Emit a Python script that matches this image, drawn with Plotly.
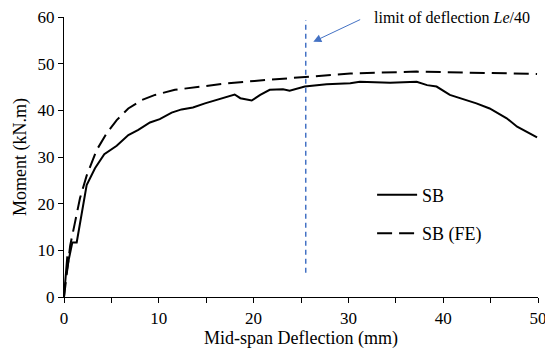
import plotly.graph_objects as go

# Measured (SB) test curve
sb_x = [0, 0.35, 0.25, 0.5, 0.88, 1.34, 1.86, 2.39, 3.27, 4.25, 5.56, 6.79, 7.84, 9.07, 10.1,
        11.36, 12.4, 13.6, 14.87, 16.3, 18.0, 18.6, 19.8, 20.7, 21.7, 23.1, 23.8, 25.4, 27.7,
        30.2, 31.2, 34.4, 36.1, 37.2, 38.3, 39.3, 40.7, 41.8, 43.5, 44.9, 45.8, 46.7, 47.8, 49.9]
sb_y = [0, 8.7, 5.0, 8.0, 11.7, 11.7, 17.9, 24.0, 27.6, 30.6, 32.4, 34.7, 35.8, 37.4, 38.1,
        39.5, 40.2, 40.6, 41.5, 42.4, 43.4, 42.6, 42.1, 43.3, 44.4, 44.5, 44.2, 45.1, 45.6,
        45.8, 46.1, 45.9, 46.1, 46.1, 45.4, 45.1, 43.3, 42.6, 41.5, 40.4, 39.4, 38.3, 36.5, 34.2]

# Finite element (SB (FE)) curve
fe_x = [0, 0.3, 0.65, 1.16, 1.69, 2.39, 3.45, 4.5, 5.56, 6.78, 8.2, 9.6, 11.7, 14.5, 17.3,
        20.1, 25.4, 30.2, 37.2, 44.2, 49.9]
fe_y = [0, 5.5, 11.0, 16.0, 21.2, 26.0, 31.5, 35.1, 37.9, 40.4, 42.2, 43.3, 44.4, 45.1, 45.8,
        46.3, 47.1, 47.9, 48.3, 48.1, 47.8]

# Deflection limit marker
limit_x = [25.5, 25.5]
limit_y = [5.2, 59.3]

FONT = "Liberation Serif"
BLUE = "#4472C4"

fig = go.Figure()
fig.add_trace(go.Scatter(x=sb_x, y=sb_y, mode="lines", name="SB", legendgroup="a",
                         line=dict(color="black", width=2)))
fig.add_trace(go.Scatter(x=fe_x, y=fe_y, mode="lines", name="SB (FE)", legendgroup="b",
                         line=dict(color="black", width=2, dash="15px,7px")))
fig.add_trace(go.Scatter(x=limit_x, y=limit_y, mode="lines", showlegend=False,
                         line=dict(color=BLUE, width=1.5, dash="5px,4px")))

fig.add_annotation(x=26.3, y=54.7, ax=31.4, ay=59.6, axref="x", ayref="y", xref="x", yref="y",
                   text="", showarrow=True, arrowhead=2, arrowsize=1.6, arrowwidth=1,
                   arrowcolor=BLUE)
fig.add_annotation(x=32.5, y=60, xref="x", yref="y", xanchor="left", yanchor="middle",
                   text="limit of deflection <i>Le</i>/40", showarrow=False,
                   font=dict(family=FONT, size=16, color="black"))

fig.update_layout(
    width=545, height=355,
    margin=dict(l=64, r=7, t=17, b=58),
    paper_bgcolor="white", plot_bgcolor="white",
    font=dict(family=FONT, size=17, color="black"),
    showlegend=True,
    legend=dict(x=0.65, y=0.43, xanchor="left", yanchor="top", bgcolor="rgba(0,0,0,0)",
                tracegroupgap=12, itemwidth=40, font=dict(family=FONT, size=18)),
    xaxis=dict(range=[0, 50], dtick=10, tick0=0, showgrid=False, zeroline=False,
               automargin=False, ticklabeloverflow="allow",
               showline=True, linecolor="black", linewidth=1.3,
               ticks="outside", ticklen=5, tickcolor="black", tickwidth=1.3,
               tickfont=dict(family=FONT, size=17),
               minor=dict(dtick=5, ticks="outside", ticklen=5, tickcolor="black", tickwidth=1.3),
               title=dict(text="Mid-span Deflection (mm)", font=dict(family=FONT, size=18), standoff=4)),
    yaxis=dict(range=[0, 60], dtick=10, tick0=0, showgrid=False, zeroline=False,
               automargin=False, ticklabeloverflow="allow",
               showline=True, linecolor="black", linewidth=1.3,
               ticks="outside", ticklen=5, tickcolor="black", tickwidth=1.3,
               tickfont=dict(family=FONT, size=17),
               title=dict(text="Moment (kN.m)", font=dict(family=FONT, size=18), standoff=6)),
)

# remove the default 8px page margin so the figure fills the window exactly
fig.write_html("out.html", config={"displayModeBar": False},
               post_script="document.body.style.margin='0';document.body.style.overflow='hidden';")
